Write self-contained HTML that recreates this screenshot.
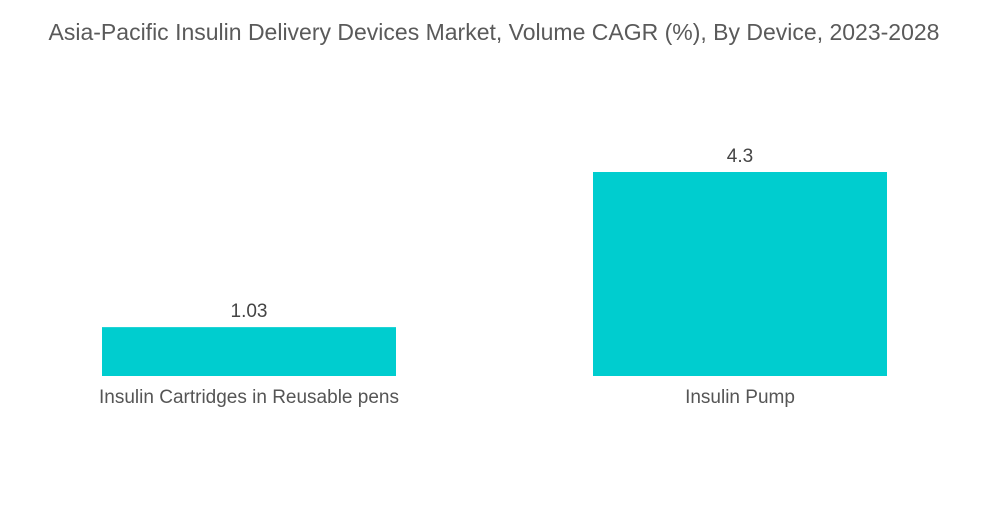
<!DOCTYPE html>
<html>
<head>
<meta charset="utf-8">
<style>
html,body{margin:0;padding:0;background:#fff;}
body{width:1000px;height:504px;overflow:hidden;font-family:"Liberation Sans",sans-serif;}
</style>
</head>
<body>
<svg id="chart" width="1000" height="504" viewBox="0 0 1000 504" xmlns="http://www.w3.org/2000/svg">
<text x="494" y="40" text-anchor="middle" font-family="Liberation Sans, sans-serif" font-size="23" fill="#5a5a5a">Asia-Pacific Insulin Delivery Devices Market, Volume CAGR (%), By Device, 2023-2028</text>
<g id="bars"></g>
</svg>
<script>
const categories = ["Insulin Cartridges in Reusable pens", "Insulin Pump"];
const values = [1.03, 4.3];
const valueLabels = ["1.03", "4.3"];

const baseY = 376, pxPerUnit = 47.44;
const barW = 294, startX = 102, step = 491;
function yScale(v){ return baseY - v * pxPerUnit; }
function xScale(i){ return startX + i * step; }

const g = document.getElementById('bars');
const NS = "http://www.w3.org/2000/svg";
categories.forEach((c, i) => {
  const x = xScale(i), y = yScale(values[i]);
  const r = document.createElementNS(NS, 'rect');
  
  
  r.setAttribute('x', x); r.setAttribute('y', y);
  r.setAttribute('width', barW); r.setAttribute('height', baseY - y);
  r.setAttribute('fill', '#00cdcf');
  g.appendChild(r);

  const vl = document.createElementNS(NS, 'text');
  
  
  vl.setAttribute('x', x + barW / 2); vl.setAttribute('y', y - 10);
  vl.setAttribute('text-anchor', 'middle');
  vl.setAttribute('font-size', '19'); vl.setAttribute('fill', '#444');
  vl.textContent = valueLabels[i];
  g.appendChild(vl);

  const cl = document.createElementNS(NS, 'text');
  
  
  cl.setAttribute('x', x + barW / 2); cl.setAttribute('y', 403);
  cl.setAttribute('text-anchor', 'middle');
  cl.setAttribute('font-size', '19'); cl.setAttribute('fill', '#555');
  cl.textContent = c;
  g.appendChild(cl);
});
</script>
</body>
</html>
